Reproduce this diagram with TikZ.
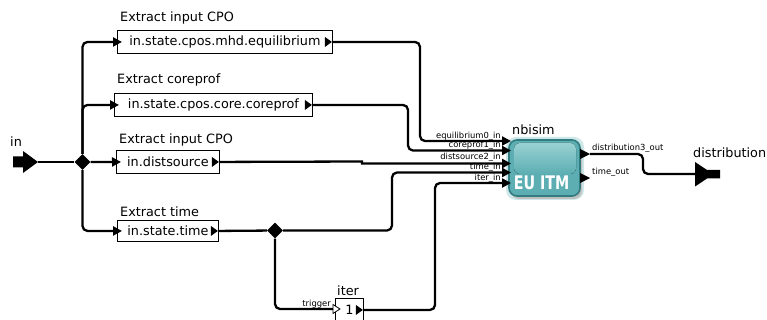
\documentclass[tikz,border=0pt]{standalone}
\usepackage{fontspec}
\setmainfont{DejaVu Sans}
\usetikzlibrary{arrows.meta,shapes.geometric,positioning}

\definecolor{itmteal}{RGB}{92,174,178}
\definecolor{itmlight}{RGB}{128,198,200}
\definecolor{itmdark}{RGB}{48,124,128}

\tikzset{
  actor/.style={draw, line width=0.9pt, fill=white, minimum height=23, inner sep=0,
    font=\fontsize{12.8}{14}\selectfont},
  caption/.style={anchor=base west, inner sep=0, font=\fontsize{12.8}{14}\selectfont},
  wire/.style={line width=2.3pt, rounded corners=5},
  feed/.style={wire, -{Triangle[length=9pt,width=9pt]}},
  portlbl/.style={inner sep=0, font=\fontsize{8.4}{9}\selectfont},
  joint/.style={diamond, fill=black, inner sep=0, minimum size=16},
}

\begin{document}
\begin{tikzpicture}[x=1pt,y=-1pt]
  \useasboundingbox (0,0) rectangle (767,320);

  % actors
  \node[actor, minimum width=215, anchor=north west] (mhd) at (117,30) {in.state.cpos.mhd.equilibrium};
  \node[actor, minimum width=198, anchor=north west] (core) at (114,93) {in.state.cpos.core.coreprof};
  \node[actor, minimum width=103, anchor=north west] (dsrc) at (116,150) {in.distsource};
  \node[actor, minimum width=101, anchor=north west, minimum height=21] (time) at (117,220) {in.state.time};
  \node[actor, minimum width=28, anchor=north west] (iter) at (335,298) {1};

  \node[caption] (capmhd) at (120,22) {Extract input CPO};
  \node[caption] (capcore) at (117,84) {Extract coreprof};
  \node[caption] (capdsrc) at (119,144) {Extract input CPO};
  \node[caption] (captime) at (120,216) {Extract time};
  \node[caption] (capiter) at (337,295) {iter};
  \node[caption] (capnbi) at (512,135) {nbisim};
  \node[caption] (capin) at (10,147) {in};
  \node[caption] (capdist) at (693,158) {distribution};

  % output ports of the actors
  \foreach \a in {mhd,core,dsrc,time,iter}
    \fill ([xshift=-1]\a.east) -- ++(-7,-5) -- ++(0,10) -- cycle;
  \coordinate (trig) at (333,309);
  \draw[line width=0.8pt, fill=white] (trig) -- ++(0,-4.5) -- ++(7,4.5) -- ++(-7,4.5) -- cycle;
  \node[portlbl, anchor=base east] (trigl) at (331,306) {trigger};

  % composite actor
  \fill[rounded corners=10, itmteal!30] (506,137) rectangle (584,200);
  \fill[rounded corners=8, black!25] (511,143) rectangle (582,199);
  \draw[rounded corners=8, line width=1.6pt, itmdark, fill=itmteal] (509,140) rectangle (580,196);
  \fill[rounded corners=6, top color=itmlight!80!white, bottom color=itmteal] (514,143) rectangle (576,174);
  \node[text=white, font=\bfseries\fontsize{15}{16}\selectfont] (euitm) at (541.5,182.5) {\scalebox{0.95}[1.25]{EU ITM}};

  \coordinate (eqin) at (511,141);
  \coordinate (cpin) at (511,150.5);
  \coordinate (dsin) at (511,162.5);
  \coordinate (tmin) at (511,172.5);
  \coordinate (itin) at (511,183);
  \coordinate (dsout) at (580,154);
  \coordinate (tmout) at (580,178);

  \node[portlbl, anchor=base east] at (501,138.5) {equilibrium0\_in};
  \node[portlbl, anchor=base east] at (501,148) {coreprof1\_in};
  \node[portlbl, anchor=base east] at (501,160) {distsource2\_in};
  \node[portlbl, anchor=base east] at (501,170) {time\_in};
  \node[portlbl, anchor=base east] at (501,180.5) {iter\_in};
  \node[portlbl, anchor=base west] at (592,151) {distribution3\_out};
  \node[portlbl, anchor=base west] at (592,175) {time\_out};

  \fill (dsout) -- ++(0,-5) -- ++(10,5) -- ++(-10,5) -- cycle;
  \fill (tmout) -- ++(0,-5) -- ++(10,5) -- ++(-10,5) -- cycle;

  % external ports
  \coordinate (inport) at (38,162);
  \fill (inport) -- ++(-15,-11) -- ++(0,5.5) -- ++(-10,0) -- ++(0,11) -- ++(10,0) -- ++(0,5.5) -- cycle;
  \coordinate (distport) at (695,174);
  \fill (distport) -- ++(0,-12) -- ++(12,8) -- ++(13,0) -- ++(0,8.5) -- ++(-13,0) -- ++(-12,8) -- cycle;

  % relations
  \node[joint] (split) at (82.5,162) {};
  \node[joint] (tsplit) at (275,230.5) {};

  \draw[wire] (inport) -- (split);
  \draw[feed] (split) |- ([xshift=5]mhd.west);
  \draw[feed] (split) |- ([xshift=5]core.west);
  \draw[feed] (split) -- ([xshift=5]dsrc.west);
  \draw[feed] (split) |- ([xshift=5]time.west);

  \draw[feed] (mhd.east) -| (420,141) -- (eqin);
  \draw[feed] (core.east) -| (408,150.5) -- (cpin);
  \draw[feed, rounded corners=0] (dsrc.east) -- (362,161.5) -- (362,163.5) -- (dsin |- 0,163.5);
  \draw[wire] (time.east) -- (tsplit);
  \draw[feed] (tsplit) -- (392,230.5) |- (tmin);
  \draw[wire] (tsplit) |- (trig);
  \draw[feed] (iter.east) -| (435,183) -- (itin);

  \draw[wire] ([xshift=10]dsout) -| (643,174) -- (distport);
\end{tikzpicture}
\end{document}
